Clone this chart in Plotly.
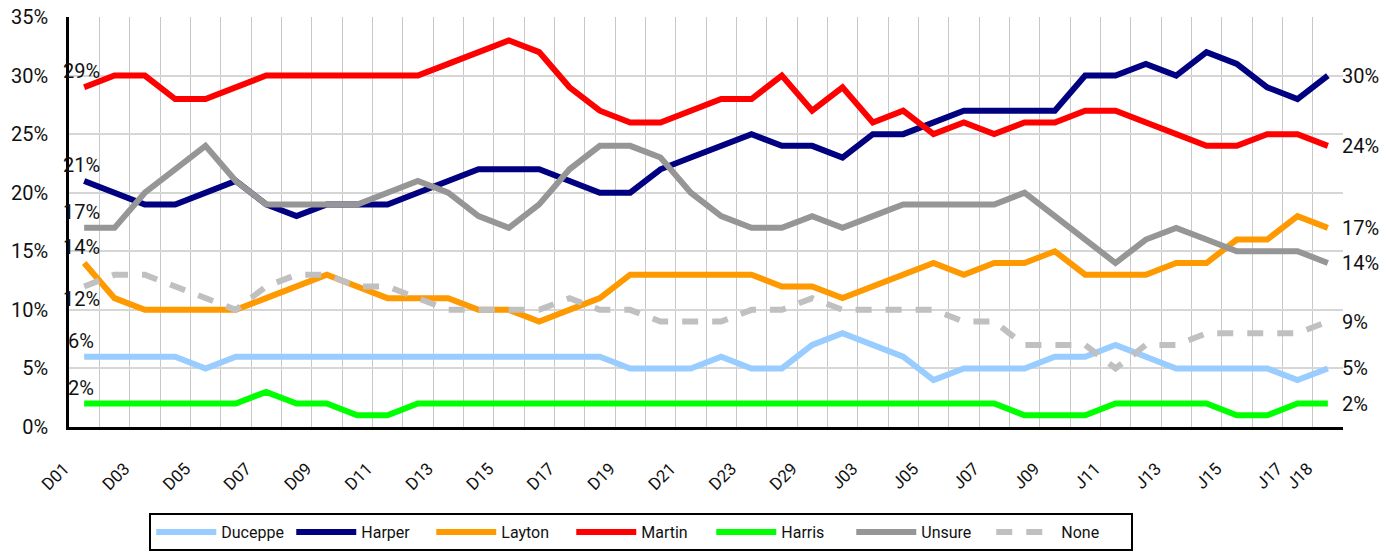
import plotly.graph_objects as go

categories = (["D%02d" % d for d in range(1, 24)] + ["D28", "D29", "J02"]
              + ["J%02d" % d for d in range(3, 19)])
tick_labels = ["D01", "D03", "D05", "D07", "D09", "D11", "D13", "D15", "D17", "D19",
               "D21", "D23", "D29", "J03", "J05", "J07", "J09", "J11", "J13", "J15",
               "J17", "J18"]

duceppe = [6, 6, 6, 6, 5, 6, 6, 6, 6, 6, 6, 6, 6, 6, 6, 6, 6, 6, 5, 5, 5,
           6, 5, 5, 7, 8, 7, 6, 4, 5, 5, 5, 6, 6, 7, 6, 5, 5, 5, 5, 4, 5]
harper = [21, 20, 19, 19, 20, 21, 19, 18, 19, 19, 19, 20, 21, 22, 22, 22, 21, 20, 20, 22, 23,
          24, 25, 24, 24, 23, 25, 25, 26, 27, 27, 27, 27, 30, 30, 31, 30, 32, 31, 29, 28, 30]
layton = [14, 11, 10, 10, 10, 10, 11, 12, 13, 12, 11, 11, 11, 10, 10, 9, 10, 11, 13, 13, 13,
          13, 13, 12, 12, 11, 12, 13, 14, 13, 14, 14, 15, 13, 13, 13, 14, 14, 16, 16, 18, 17]
martin = [29, 30, 30, 28, 28, 29, 30, 30, 30, 30, 30, 30, 31, 32, 33, 32, 29, 27, 26, 26, 27,
          28, 28, 30, 27, 29, 26, 27, 25, 26, 25, 26, 26, 27, 27, 26, 25, 24, 24, 25, 25, 24]
harris = [2, 2, 2, 2, 2, 2, 3, 2, 2, 1, 1, 2, 2, 2, 2, 2, 2, 2, 2, 2, 2,
          2, 2, 2, 2, 2, 2, 2, 2, 2, 2, 1, 1, 1, 2, 2, 2, 2, 1, 1, 2, 2]
unsure = [17, 17, 20, 22, 24, 21, 19, 19, 19, 19, 20, 21, 20, 18, 17, 19, 22, 24, 24, 23, 20,
          18, 17, 17, 18, 17, 18, 19, 19, 19, 19, 20, 18, 16, 14, 16, 17, 16, 15, 15, 15, 14]
none_ = [12, 13, 13, 12, 11, 10, 12, 13, 13, 12, 12, 11, 10, 10, 10, 10, 11, 10, 10, 9, 9,
         9, 10, 10, 11, 10, 10, 10, 10, 9, 9, 7, 7, 7, 5, 7, 7, 8, 8, 8, 8, 9]

series = [
    ("Duceppe", duceppe, "#99CCFF", "solid", "above"),
    ("Harper", harper, "#000080", "solid", "above"),
    ("Layton", layton, "#FF9900", "solid", "above"),
    ("Martin", martin, "#FF0000", "solid", "above"),
    ("Harris", harris, "#00FF00", "solid", "above"),
    ("Unsure", unsure, "#969696", "solid", "above"),
    ("None", none_, "#C0C0C0", "16px,14px", "below"),
]

FONT = "Roboto, Liberation Sans, sans-serif"

fig = go.Figure()
annotations = []
for name, vals, color, dash, first_pos in series:
    fig.add_trace(go.Scatter(
        x=categories, y=vals, name=name, mode="lines",
        line=dict(color=color, width=6, dash=dash),
    ))
    annotations.append(dict(
        x=categories[0], y=vals[0], text="%d%%" % vals[0], showarrow=False,
        xanchor="center", yanchor="middle",
        yshift=16 if first_pos == "above" else -13, xshift=-3,
        font=dict(family=FONT, size=20, color="#111"),
    ))
    annotations.append(dict(
        x=categories[-1], y=vals[-1], text="%d%%" % vals[-1], showarrow=False,
        xanchor="left", yanchor="middle", xshift=12,
        font=dict(family=FONT, size=20, color="#111"),
    ))

fig.update_layout(
    width=1388, height=554,
    margin=dict(l=69, r=45, t=17, b=127, autoexpand=False),
    plot_bgcolor="white", paper_bgcolor="white",
    font=dict(family=FONT, color="#111"),
    annotations=annotations,
    showlegend=True,
    legend=dict(
        orientation="h", x=0.063, xanchor="left", y=-0.21, yanchor="top",
        bordercolor="black", borderwidth=2, font=dict(size=16, family=FONT),
        entrywidth=65, itemwidth=60, tracegroupgap=0,
    ),
)
fig.update_xaxes(
    type="category", tickson="boundaries",
    range=[-0.5, len(categories) - 0.5],
    tickmode="array", tickvals=categories,
    ticktext=[c if c in tick_labels else "" for c in categories],
    tickangle=-45, tickfont=dict(size=17, family=FONT, color="#111"),
    showgrid=True, gridcolor="#C8C8C8", gridwidth=1,
    showline=True, linecolor="black", linewidth=3, ticks="",
    ticklabelstandoff=22, ticklabelshift=-20,
)
fig.update_yaxes(
    range=[0, 35], tickmode="linear", tick0=0, dtick=5, ticksuffix="%",
    tickfont=dict(size=20, family=FONT, color="#111"),
    showgrid=True, gridcolor="#D6D6D6", gridwidth=1.5, zeroline=False,
    showline=True, linecolor="black", linewidth=2.5, ticks="",
    ticklabelstandoff=14,
)

fig.write_html("out.html", config={"displayModeBar": False},
               post_script="document.body.style.margin='0px';")
